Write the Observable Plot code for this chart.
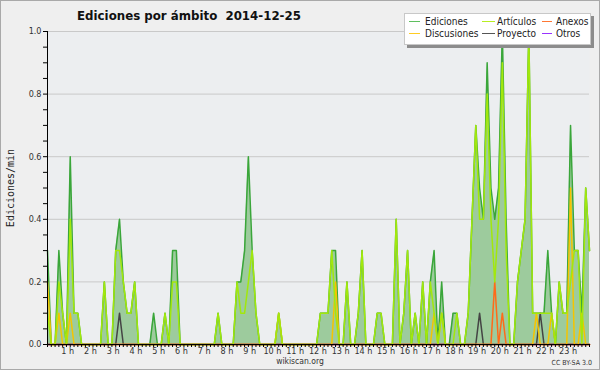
<!DOCTYPE html>
<html><head><meta charset="utf-8">
<script src="https://cdn.jsdelivr.net/npm/d3@7"></script>
<script src="https://cdn.jsdelivr.net/npm/@observablehq/plot@0.6"></script>
<style>
html,body{margin:0;padding:0;background:#efefef;}
#wrap{position:relative;width:600px;height:370px;background:#efefef;overflow:hidden;font-family:"DejaVu Sans Condensed","DejaVu Sans",sans-serif;color:#222;}
#chart{position:absolute;left:0;top:0;}
#border{position:absolute;left:0;top:0;width:600px;height:370px;box-sizing:border-box;border:1px solid #a9a9a9;pointer-events:none;}
#title{position:absolute;left:0;width:378px;text-align:center;top:9px;font:bold 11.8px "DejaVu Sans",sans-serif;color:#111;white-space:pre;}
#ylab{position:absolute;left:10px;top:188px;transform:translate(-50%,-50%) rotate(-90deg);font:10px "DejaVu Sans Mono",monospace;white-space:nowrap;color:#222;}
#legend{position:absolute;left:404px;top:13px;width:185px;height:30px;background:#fff;border:1px solid #c8c8c8;box-shadow:3px 3px 0 #8c8c8c;}
.li{position:absolute;font-size:10px;line-height:11px;white-space:nowrap;color:#222;}
.sw{position:absolute;height:0;border-top:1px solid;}
#foot{position:absolute;left:0;width:600px;text-align:center;top:357px;font-size:8.5px;line-height:9px;color:#333;}
#cc{position:absolute;right:8px;top:359px;font-size:7px;line-height:8px;color:#333;}
</style></head>
<body>
<div id="wrap">
  <div id="chart"></div>
  <div id="title">Ediciones por ámbito  2014-12-25</div>
  <div id="ylab">Ediciones/min</div>
  <div id="legend"></div>
  <div id="foot">wikiscan.org</div>
  <div id="cc">CC BY-SA 3.0</div>
  <div id="border"></div>
</div>
<script>
// 10-minute bins, 00:00 .. 23:50 (edits per minute)
const ediciones = [
 0.3,0,0,0.3,0.1,0,0.6,0.1,0.1,0,0,0,
 0,0,0,0.2,0,0,0.3,0.4,0.2,0.1,0.1,0.2,
 0,0,0,0,0.1,0,0,0.1,0,0.3,0.3,0,
 0,0,0,0,0,0,0,0,0,0.1,0,0,
 0,0,0.2,0.2,0.3,0.6,0.3,0.1,0,0,0,0,
 0,0.1,0,0,0,0,0,0,0,0,0,0,
 0.1,0.1,0.1,0.3,0.3,0,0,0.2,0,0,0.1,0.3,
 0,0,0,0.1,0.1,0,0,0,0.4,0,0.1,0.3,
 0,0.1,0,0.2,0,0.2,0.3,0,0.2,0,0,0.1,
 0.1,0,0,0.1,0.4,0.7,0.5,0.4,0.9,0.5,0.4,0.5,
 1.0,0.4,0,0,0.2,0.3,0.4,1.0,0.1,0.1,0.1,0.1,
 0.3,0.1,0,0.2,0.1,0.1,0.7,0.3,0.3,0.1,0.5,0.3];
const articulos = [
 0.1,0,0,0.2,0.1,0,0.4,0.1,0.1,0,0,0,
 0,0,0,0.2,0,0,0.3,0.3,0.2,0.1,0.1,0.2,
 0,0,0,0,0,0,0,0.1,0,0.2,0.2,0,
 0,0,0,0,0,0,0,0,0,0.1,0,0,
 0,0,0.2,0.1,0.1,0.2,0.3,0.1,0,0,0,0,
 0,0.1,0,0,0,0,0,0,0,0,0,0,
 0.1,0.1,0.1,0.3,0.1,0,0,0.2,0,0,0.1,0.3,
 0,0,0,0.1,0.1,0,0,0,0.4,0,0.1,0.3,
 0,0.1,0,0.2,0,0.2,0.1,0,0.1,0,0,0,
 0.1,0,0,0.1,0.4,0.7,0.4,0.4,0.8,0.4,0.2,0.4,
 0.9,0.3,0,0,0.2,0.3,0.4,1.0,0.1,0.1,0.1,0.1,
 0.1,0.1,0,0.2,0.1,0.1,0.2,0.3,0.3,0,0.5,0.3];
const discusiones = [
 0.2,0,0,0.1,0,0,0.1,0,0,0,0,0,
 0,0,0,0,0,0,0,0,0,0,0,0,
 0,0,0,0,0,0,0,0,0,0,0,0,
 0,0,0,0,0,0,0,0,0,0,0,0,
 0,0,0,0,0,0,0,0,0,0,0,0,
 0,0.1,0,0,0,0,0,0,0,0,0,0,
 0,0,0,0,0.2,0,0,0,0,0,0,0,
 0,0,0,0,0,0,0,0,0,0,0,0,
 0,0,0,0,0,0,0.1,0,0.1,0,0,0,
 0,0,0,0,0,0,0,0,0,0,0,0,
 0,0,0,0,0,0,0,0,0,0.1,0,0,
 0,0.1,0,0,0,0,0.5,0,0,0.1,0,0];
const anexos = [
 0,0,0,0,0,0,0,0,0,0,0,0,
 0,0,0,0,0,0,0,0,0,0,0,0,
 0,0,0,0,0,0,0,0,0,0,0,0,
 0,0,0,0,0,0,0,0,0,0,0,0,
 0,0,0,0,0,0,0,0,0,0,0,0,
 0,0,0,0,0,0,0,0,0,0,0,0,
 0,0,0,0,0,0,0,0,0,0,0,0,
 0,0,0,0,0,0,0,0,0,0,0,0,
 0,0,0,0,0,0,0,0,0,0,0,0,
 0,0,0,0,0,0,0,0,0,0,0.2,0,
 0.1,0,0,0,0,0,0,0,0,0,0,0,
 0,0,0,0,0,0,0,0,0,0,0,0];
const proyecto = [
 0,0,0,0,0,0,0,0,0,0,0,0,
 0,0,0,0,0,0,0,0.1,0,0,0,0,
 0,0,0,0,0,0,0,0,0,0,0,0,
 0,0,0,0,0,0,0,0,0,0,0,0,
 0,0,0,0,0,0,0,0,0,0,0,0,
 0,0,0,0,0,0,0,0,0,0,0,0,
 0,0,0,0,0,0,0,0,0,0,0,0,
 0,0,0,0,0,0,0,0,0,0,0,0,
 0,0,0,0,0,0,0,0,0,0,0,0,
 0,0,0,0,0,0,0.1,0,0,0,0,0,
 0,0,0,0,0,0,0,0,0,0,0.1,0,
 0,0,0,0,0,0,0,0,0,0,0,0];
const otros = [
 0,0,0,0,0,0,0,0,0,0,0,0,
 0,0,0,0,0,0,0,0,0,0,0,0,
 0,0,0,0,0,0,0,0,0,0,0,0,
 0,0,0,0,0,0,0,0,0,0,0,0,
 0,0,0,0,0,0,0,0,0,0,0,0,
 0,0,0,0,0,0,0,0,0,0,0,0,
 0,0,0,0,0,0,0,0,0,0,0,0,
 0,0,0,0,0,0,0,0,0,0,0,0,
 0,0,0,0,0,0,0,0,0,0,0,0,
 0,0,0,0,0,0,0,0,0,0,0,0,
 0,0,0,0,0,0,0,0,0,0,0,0,
 0,0,0,0,0,0,0,0,0,0,0,0];
const hourTicks = [1,2,3,4,5,6,7,8,9,10,11,12,13,14,15,16,17,18,19,20,21,22,23];
const yMajor = [0,0.2,0.4,0.6,0.8,1.0];
const yMinor = [0.05,0.1,0.15,0.25,0.3,0.35,0.45,0.5,0.55,0.65,0.7,0.75,0.85,0.9,0.95];
const gridY = [0.2,0.4,0.6,0.8,1.0];
const legendNames = ["Ediciones","Artículos","Anexos","Discusiones","Proyecto","Otros"];
const legendColors = ["#5fbf5f","#b8ee22","#ff7733","#ffcc22","#555555","#9933ff"];

const binMinutes = 10;
const rows = ediciones.map((v, k) => ({
  t: k * binMinutes, ediciones: v, articulos: articulos[k], discusiones: discusiones[k],
  anexos: anexos[k], proyecto: proyecto[k], otros: otros[k]
}));
const minorX = rows.map(r => r.t);

const lines = [
  ["otros", "#9933ff"],
  ["proyecto", "#444444"],
  ["anexos", "#ff6a1a"],
  ["discusiones", "#f5c400"],
  ["articulos", "#a2e80c"]
];

const chart = Plot.plot({
  width: 600, height: 370,
  marginLeft: 47, marginRight: 11, marginTop: 31, marginBottom: 26,
  x: {domain: [0, (ediciones.length - 1) * binMinutes]},
  y: {domain: [0, 1]},
  style: {background: "transparent", fontFamily: "'DejaVu Sans Condensed','DejaVu Sans',sans-serif", fontSize: "9px", color: "#222"},
  marks: [
    Plot.frame({fill: "#eceef0", stroke: "none"}),
    Plot.ruleY(gridY, {stroke: "#c9c9c9", strokeWidth: 1}),
    Plot.areaY(rows, {x: "t", y: "ediciones", fill: "#9dcb9d"}),
    Plot.lineY(rows, {x: "t", y: "ediciones", stroke: "#3aa63a", strokeWidth: 1.5}),
    ...lines.map(([k, c]) => Plot.lineY(rows, {x: "t", y: k, stroke: c, strokeWidth: 1.5})),
    Plot.ruleY([0], {stroke: "#000"}),
    Plot.ruleX([0], {stroke: "#000"}),
    Plot.axisY({ticks: yMajor, tickFormat: d => d.toFixed(1), tickSize: 4, tickPadding: 2, label: null, stroke: "#000", fill: "#333"}),
    Plot.axisY({ticks: yMinor, tickFormat: () => "", tickSize: 4, label: null, stroke: "#000"}),
    Plot.axisX({ticks: minorX, tickFormat: () => "", tickSize: 3, label: null, stroke: "#000"}),
    Plot.axisX({ticks: hourTicks.map(h => h * 60), tickFormat: d => `${d / 60} h`, tickSize: 0, tickPadding: 3, dx: -2.5, label: null, fill: "#333"})
  ]
});
document.getElementById("chart").appendChild(chart);

// legend
const lg = document.getElementById("legend");
const colX = [4, 77, 137];
const swW = [11, 13, 10];
const txtX = [20, 92, 151];
legendNames.forEach((n, k) => {
  const col = k % 3, row = Math.floor(k / 3);
  const sw = document.createElement("div");
  sw.className = "sw";
  sw.style.left = colX[col] + "px";
  sw.style.width = swW[col] + "px";
  sw.style.top = (7 + row * 12) + "px";
  sw.style.borderTopColor = legendColors[k];
  lg.appendChild(sw);
  const t = document.createElement("div");
  t.className = "li";
  t.style.left = txtX[col] + "px";
  t.style.top = (2 + row * 12) + "px";
  t.textContent = n;
  lg.appendChild(t);
});
</script>
</body></html>
